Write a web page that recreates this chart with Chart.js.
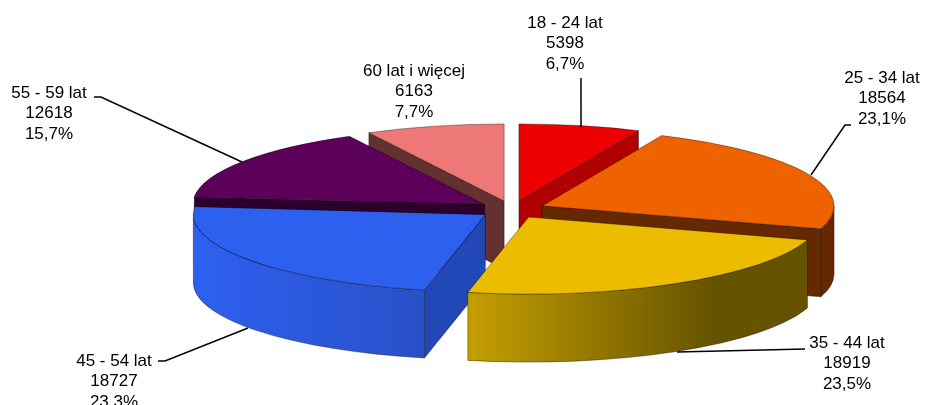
<!DOCTYPE html>
<html lang="pl">
<head>
<meta charset="utf-8">
<title>Struktura wieku</title>
<script src="https://cdn.jsdelivr.net/npm/chart.js"></script>
<style>
    html, body { margin: 0; padding: 0; background: #fff; overflow: hidden; }
    canvas { display: block; }
</style>
</head>
<body>
<canvas id="pieChart" width="925" height="405"></canvas>
<script>
// --- Data ---
const categories = ['18 - 24 lat', '25 - 34 lat', '35 - 44 lat', '45 - 54 lat', '55 - 59 lat', '60 lat i więcej'];
const values = [5398, 18564, 18919, 18727, 12618, 6163];

// --- Colours, same order as categories ---
const topColors = ['#EE0000', '#EE6200', '#ECBC00', '#2E60F0', '#5C005C', '#EE7777'];
const edgeColors = ['#B00000', '#662800', '#665300', '#2248B8', '#2C002C', '#643030'];
const rimFrom = ['#B00000', '#662800', '#C49E00', '#2E60F0', '#2C002C', '#643030'];
const rimTo = ['#B00000', '#662800', '#665300', '#2850C8', '#2C002C', '#643030'];
const rimStop = [1, 1, 0.72, 1, 1, 1];

// --- 3D look of the pie ---
const RADIUS = 292;
const FLATTEN = 0.264;
const DEPTH = 68;
const EXPLODE = 33;
const drawOrder = [5, 0, 4, 1, 3, 2]; // back to front

// --- Label layout: text centre, first line y, leader line points ---
const labelX = [565, 882, 847, 114, 49, 414];
const labelY = [23, 78, 343, 361, 93, 71];
const LINE_HEIGHT = 20.8;
const leaders = [
    [[581, 78], [581, 127]],
    [[851, 125], [845, 125], [811, 175]],
    [[805, 349], [677, 352]],
    [[158, 361], [165, 361], [248, 328]],
    [[94, 97], [101, 97], [242, 162]],
    []
];

function percentText(value) {
    const total = values.reduce((a, b) => a + b, 0);
    return (value / total * 100).toFixed(1).replace('.', ',') + '%';
}

// Wall and rim of one slice, drawn in screen coordinates below the top face
function drawSides(ctx, arc, index, ax, ay) {
    const start = arc.startAngle;
    const end = arc.endAngle;
    const r = arc.outerRadius;
    const ry = r * FLATTEN;

    const wall = (angle) => {
        const ex = ax + Math.cos(angle) * r;
        const ey = ay + Math.sin(angle) * ry;
        ctx.beginPath();
        ctx.moveTo(ax, ay);
        ctx.lineTo(ex, ey);
        ctx.lineTo(ex, ey + DEPTH);
        ctx.lineTo(ax, ay + DEPTH);
        ctx.closePath();
        ctx.fillStyle = edgeColors[index];
        ctx.fill();
        ctx.stroke();
    };

    if (Math.sin(start - Math.PI / 2) > 0) wall(start);
    if (Math.sin(end + Math.PI / 2) > 0) wall(end);

    const from = Math.max(start, 0);
    const to = Math.min(end, Math.PI);
    if (to > from) {
        const x1 = ax + Math.cos(to) * r;
        const x2 = ax + Math.cos(from) * r;
        const gradient = ctx.createLinearGradient(x1, 0, x2, 0);
        gradient.addColorStop(0, rimFrom[index]);
        gradient.addColorStop(rimStop[index], rimTo[index]);
        if (rimStop[index] < 1) gradient.addColorStop(1, rimTo[index]);
        ctx.beginPath();
        ctx.ellipse(ax, ay, r, ry, 0, from, to);
        ctx.ellipse(ax, ay + DEPTH, r, ry, 0, to, from, true);
        ctx.closePath();
        ctx.fillStyle = gradient;
        ctx.fill();
        ctx.stroke();
    }
}

const explodedPie = {
    id: 'explodedPie',
    // The library's arcs keep the geometry, here they only get flattened and pulled apart
    beforeDatasetDraw(chart, args) {
        const ctx = chart.ctx;
        const arcs = args.meta.data;

        drawOrder.forEach(i => {
            const arc = arcs[i];
            const mid = (arc.startAngle + arc.endAngle) / 2;
            const ax = arc.x + Math.cos(mid) * EXPLODE;
            const ay = arc.y + Math.sin(mid) * EXPLODE * FLATTEN;

            ctx.save();
            ctx.lineWidth = 0.8;
            ctx.strokeStyle = 'rgba(0, 0, 0, 0.45)';
            drawSides(ctx, arc, i, ax, ay);
            ctx.restore();

            ctx.save();
            ctx.translate(ax, ay);
            ctx.scale(1, FLATTEN);
            ctx.translate(-arc.x, -arc.y);
            arc.draw(ctx);
            ctx.restore();

            ctx.save();
            ctx.lineWidth = 0.8;
            ctx.strokeStyle = 'rgba(0, 0, 0, 0.45)';
            ctx.beginPath();
            ctx.moveTo(ax, ay);
            ctx.ellipse(ax, ay, arc.outerRadius, arc.outerRadius * FLATTEN, 0, arc.startAngle, arc.endAngle);
            ctx.closePath();
            ctx.stroke();
            ctx.restore();
        });
        return false;
    },
    afterDraw(chart) {
        const ctx = chart.ctx;
        ctx.save();
        ctx.strokeStyle = '#000';
        ctx.lineWidth = 1.5;
        leaders.forEach(points => {
            if (!points.length) return;
            ctx.beginPath();
            points.forEach(([x, y], n) => n ? ctx.lineTo(x, y) : ctx.moveTo(x, y));
            ctx.stroke();
        });

        ctx.fillStyle = '#000';
        ctx.font = '17px "Liberation Sans", Arial, sans-serif';
        ctx.textAlign = 'center';
        ctx.textBaseline = 'middle';
        categories.forEach((name, i) => {
            ctx.fillText(name, labelX[i], labelY[i]);
            ctx.fillText(String(values[i]), labelX[i], labelY[i] + LINE_HEIGHT);
            ctx.fillText(percentText(values[i]), labelX[i], labelY[i] + LINE_HEIGHT * 2);
        });
        ctx.restore();
    }
};

new Chart(document.getElementById('pieChart'), {
    type: 'pie',
    data: {
        labels: categories,
        datasets: [{
            data: values,
            backgroundColor: topColors,
            borderWidth: 0
        }]
    },
    options: {
        responsive: false,
        animation: false,
        radius: RADIUS,
        layout: { padding: { left: 99, top: 14 } }, // puts the pie centre at 512, 209.5
        plugins: {
            legend: { display: false },
            tooltip: { enabled: false }
        }
    },
    plugins: [explodedPie]
});
</script>
</body>
</html>
